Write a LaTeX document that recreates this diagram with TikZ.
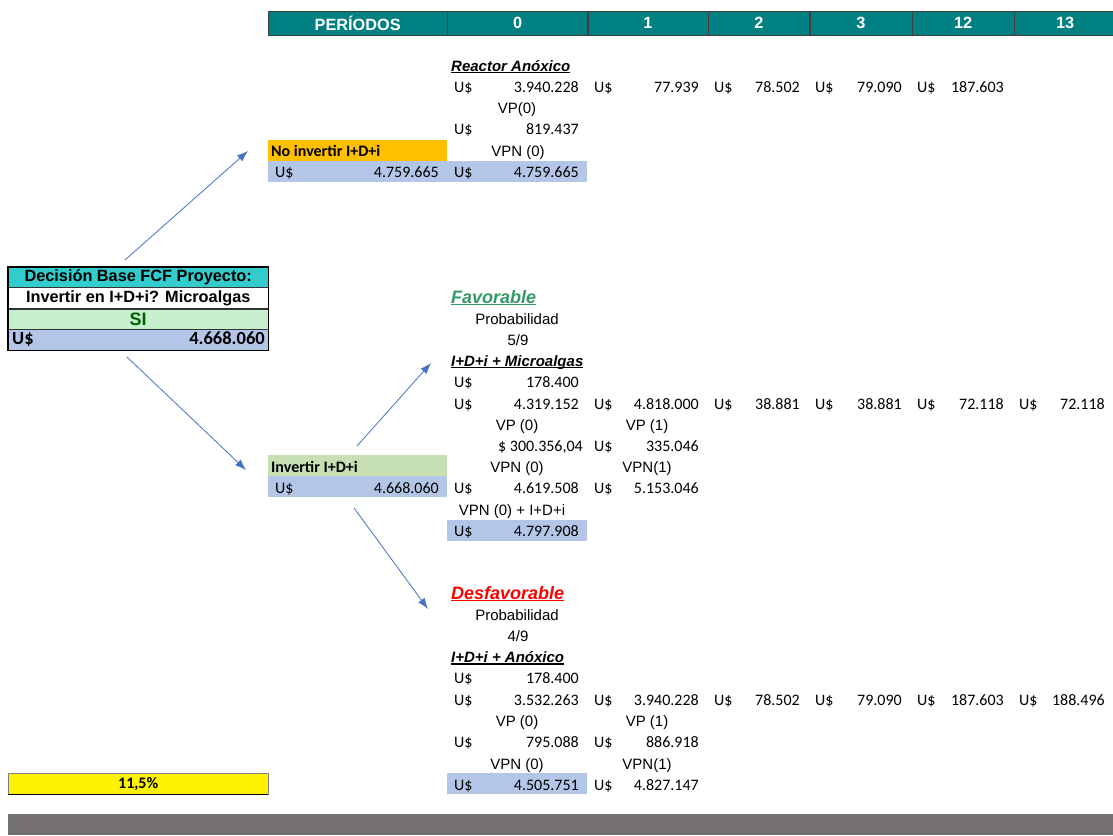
\documentclass[tikz,border=0pt]{standalone}
\usepackage{fontspec}
\usepackage{tikz}
\usetikzlibrary{positioning,arrows.meta}
\setmainfont{Liberation Sans}
\newfontfamily\calib{Carlito}
\newfontfamily\arialf{Liberation Sans}
\newcommand\numfont{\calib\fontsize{16}{19}\selectfont}
\newcommand\lblfont{\arialf\fontsize{15}{18}\selectfont}
\newsavebox\ulbox
\newcommand\ulin[1]{\sbox\ulbox{#1}\rlap{\rule[-2.4pt]{\wd\ulbox}{1.5pt}}\usebox\ulbox}
\definecolor{tealhead}{RGB}{0,128,128}
\definecolor{turq}{RGB}{51,204,204}
\definecolor{mintsi}{RGB}{198,239,206}
\definecolor{darkgreensi}{RGB}{0,97,0}
\definecolor{steelblue}{RGB}{180,198,231}
\definecolor{ambar}{RGB}{255,192,0}
\definecolor{sage}{RGB}{198,224,180}
\definecolor{favgreen}{RGB}{51,153,102}
\definecolor{arrowblue}{RGB}{68,114,196}
\definecolor{bandgray}{RGB}{118,113,113}
\newcommand\money[5]{%
  \node[usd] (#1u) at (#2+7,#4) {U\$};
  \node[val] (#1v) at (#3-8,#4) {#5};}
\begin{document}
\begin{tikzpicture}[x=1pt, y=-1pt,
    usd/.style={font=\numfont, anchor=base west, inner sep=0pt},
    val/.style={font=\numfont, anchor=base east, inner sep=0pt},
    tag/.style={font=\lblfont, anchor=base, inner sep=0pt},
    casetitle/.style={font=\lblfont\bfseries\itshape, anchor=base west, inner sep=0pt},
    hcell/.style={fill=tealhead, draw=black!75, text=white, font=\arialf\fontsize{16.3}{19}\selectfont\bfseries, minimum height=24pt, inner sep=0pt, anchor=north west},
    cell/.style={minimum height=21pt, inner sep=0pt, anchor=north west},
    deccell/.style={cell, draw=black!80, minimum width=260pt, font=\arialf\fontsize{16.3}{19}\selectfont\bfseries},
    branch/.style={-{Latex[length=11pt,width=8pt]}, draw=arrowblue, line width=0.8pt}]
  \fill[white] (0,0) rectangle (1113,835);
  \useasboundingbox (0,0) rectangle (1113,835);
  \node[hcell, minimum width=179pt] (hP) at (268,11) {PERÍODOS};
  \node[hcell, minimum width=140pt, right=0pt of hP] (h0) {0};
  \node[hcell, minimum width=120pt, right=0pt of h0] (h1) {1};
  \node[hcell, minimum width=101pt, right=0pt of h1] (h2) {2};
  \node[hcell, minimum width=102pt, right=0pt of h2] (h3) {3};
  \node[hcell, minimum width=102pt, right=0pt of h3] (h12) {12};
  \node[hcell, minimum width=101pt, right=0pt of h12] (h13) {13};

  \node[cell, fill=ambar, minimum width=179pt] (noinv) at (268,140) {};
  \node[cell, fill=steelblue, minimum width=319pt] (noinvb) at (268,161) {};
  \node[casetitle] (rA) at (451,71) {\ulin{Reactor Anóxico}};
  \money{rA0}{447}{587}{92}{3.940.228}
  \money{rA1}{587}{707}{92}{77.939}
  \money{rA2}{707}{808}{92}{78.502}
  \money{rA3}{808}{910}{92}{79.090}
  \money{rA12}{910}{1012}{92}{187.603}
  \node[tag] (rAvp) at (517,113) {VP(0)};
  \money{rAvpv}{447}{587}{134.5}{819.437}
  \node[font=\numfont\bfseries, anchor=base west, inner sep=0pt] (noinvt) at (271,156) {No invertir I+D+i};
  \node[tag] (rAvpn) at (518,156) {VPN (0)};
  \money{noinvv}{268}{447}{177.5}{4.759.665}
  \money{rAvpnv}{447}{587}{177.5}{4.759.665}

  \node[deccell, fill=turq, minimum height=20pt] (dec1) at (8,267) {Decisión Base FCF Proyecto:};
  \node[deccell, fill=white, below=0pt of dec1] (dec2) {Invertir en I+D+i? Microalgas};
  \node[deccell, fill=mintsi, text=darkgreensi, minimum height=20pt, font=\arialf\fontsize{18}{20}\selectfont\bfseries, below=0pt of dec2] (dec3) {SI};
  \node[deccell, fill=steelblue, below=0pt of dec3] (dec4) {};
  \draw[line width=1.6pt] (dec1.north west) rectangle (dec4.south east);
  \node[font=\calib\fontsize{18.5}{20}\selectfont\bfseries, anchor=base west, inner sep=0pt] (decu) at (12,344.5) {U\$};
  \node[font=\calib\fontsize{18.5}{20}\selectfont\bfseries, anchor=base east, inner sep=0pt] (decv) at (265,344.5) {4.668.060};

  \coordinate (a1s) at (125,260);
  \coordinate (a1e) at (248,151);
  \coordinate (a2s) at (127,357);
  \coordinate (a2e) at (246,470);
  \draw[branch] (a1s) -- (a1e);
  \draw[branch] (a2s) -- (a2e);

  \node[cell, fill=sage, minimum width=179pt] (inv) at (268,455) {};
  \node[cell, fill=steelblue, minimum width=179pt] (invb) at (268,476) {};
  \node[cell, fill=steelblue, minimum width=140pt] (favb) at (447,520) {};
  \node[casetitle, text=favgreen, font=\arialf\fontsize{18}{20}\selectfont\bfseries\itshape] (fav) at (451,303) {\ulin{Favorable}};
  \node[tag] (favp) at (517,324) {Probabilidad};
  \node[tag] (favq) at (518,345) {5/9};
  \node[casetitle] (favt) at (451,366) {\ulin{I+D+i + Microalgas}};
  \money{favi}{447}{587}{387.5}{178.400}
  \money{fav0}{447}{587}{409}{4.319.152}
  \money{fav1}{587}{707}{409}{4.818.000}
  \money{fav2}{707}{808}{409}{38.881}
  \money{fav3}{808}{910}{409}{38.881}
  \money{fav12}{910}{1012}{409}{72.118}
  \money{fav13}{1012}{1113}{409}{72.118}
  \node[tag] (favvp0) at (517,430) {VP (0)};
  \node[tag] (favvp1) at (647,430) {VP (1)};
  \node[val] (favvp0v) at (583,451) {\$ 300.356,04};
  \money{favvp1v}{587}{707}{451}{335.046}
  \node[font=\numfont\bfseries, anchor=base west, inner sep=0pt] (invt) at (271,472) {Invertir I+D+i};
  \node[tag] (favvpn0) at (517,472) {VPN (0)};
  \node[tag] (favvpn1) at (647,472) {VPN(1)};
  \money{invv}{268}{447}{493.5}{4.668.060}
  \money{favvpn0v}{447}{587}{493.5}{4.619.508}
  \money{favvpn1v}{587}{707}{493.5}{5.153.046}
  \node[tag] (favtot) at (512,515) {VPN (0) + I+D+i};
  \money{favtotv}{447}{587}{536}{4.797.908}

  \coordinate (a3s) at (357,446);
  \coordinate (a3e) at (431,363);
  \coordinate (a4s) at (354,508);
  \coordinate (a4e) at (428,609);
  \draw[branch] (a3s) -- (a3e);
  \draw[branch] (a4s) -- (a4e);

  \node[cell, fill=steelblue, minimum width=140pt] (desb) at (447,773) {};
  \node[casetitle, text=red, font=\arialf\fontsize{18}{20}\selectfont\bfseries\itshape] (des) at (451,599) {\ulin{Desfavorable}};
  \node[tag] (desp) at (517,620) {Probabilidad};
  \node[tag] (desq) at (518,641.5) {4/9};
  \node[casetitle] (dest) at (451,662.5) {\ulin{I+D+i + Anóxico}};
  \money{desi}{447}{587}{683.5}{178.400}
  \money{des0}{447}{587}{705}{3.532.263}
  \money{des1}{587}{707}{705}{3.940.228}
  \money{des2}{707}{808}{705}{78.502}
  \money{des3}{808}{910}{705}{79.090}
  \money{des12}{910}{1012}{705}{187.603}
  \money{des13}{1012}{1113}{705}{188.496}
  \node[tag] (desvp0) at (517,726.5) {VP (0)};
  \node[tag] (desvp1) at (647,726.5) {VP (1)};
  \money{desvp0v}{447}{587}{747.5}{795.088}
  \money{desvp1v}{587}{707}{747.5}{886.918}
  \node[tag] (desvpn0) at (517,769) {VPN (0)};
  \node[tag] (desvpn1) at (647,769) {VPN(1)};
  \money{desvpn0v}{447}{587}{790}{4.505.751}
  \money{desvpn1v}{587}{707}{790}{4.827.147}

  \node[cell, fill=yellow, draw=black!50, minimum width=260pt, font=\numfont\bfseries] (rate) at (8,773) {11,5\%};
  \draw[line width=1.6pt] (rate.south west) -- (rate.south east);
  \fill[bandgray] (8,814) rectangle (1113,835);
\end{tikzpicture}
\end{document}
